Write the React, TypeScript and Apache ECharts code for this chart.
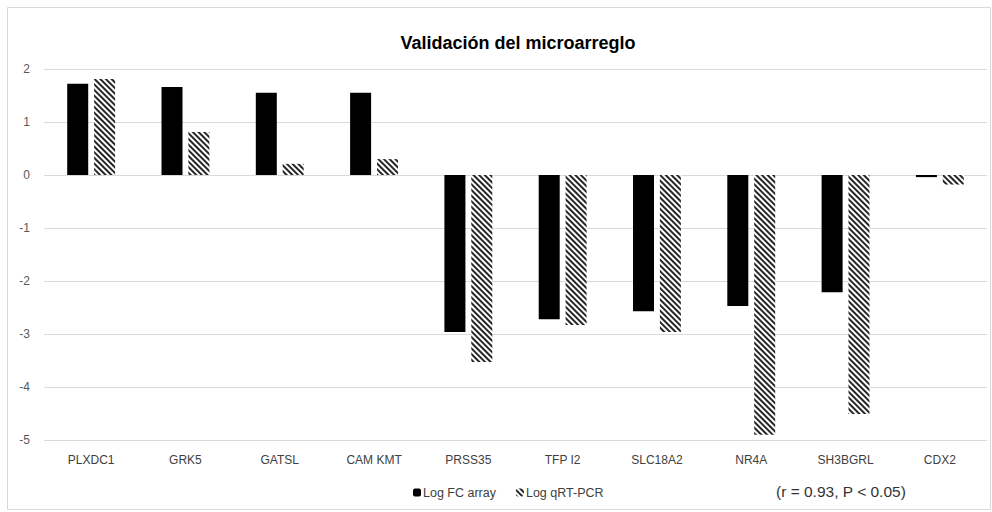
import React, { useEffect, useRef } from "react";
import * as echarts from "echarts";

const categories = ["PLXDC1", "GRK5", "GATSL", "CAMKMT", "PRSS35", "TFPI2", "SLC18A2", "NR4A", "SH3BGRL", "CDX2"];
const categoryLabels = ["PLXDC1", "GRK5", "GATSL", "CAM KMT", "PRSS35", "TFP I2", "SLC18A2", "NR4A", "SH3BGRL", "CDX2"];
const logFcArray = [1.72, 1.66, 1.55, 1.55, -2.96, -2.72, -2.57, -2.47, -2.21, -0.04];
const logQrtPcr = [1.81, 0.81, 0.21, 0.3, -3.53, -2.83, -2.96, -4.9, -4.51, -0.18];
const seriesNames = ["Log FC array", "Log qRT-PCR"];
const titleText = "Validación del microarreglo";
const noteText = "(r = 0.93, P < 0.05)";

export default function App() {
  const ref = useRef<HTMLDivElement>(null);
  useEffect(() => {
    if (!ref.current) return;
    const chart = echarts.init(ref.current, null, { renderer: "svg" });
    const hatch = {
      symbol: "rect",
      symbolSize: 1,
      dashArrayX: [1, 0],
      dashArrayY: [2, 1.6],
      rotation: Math.PI / 4,
      color: "#262626",
    };
    chart.setOption({
      animation: false,
      backgroundColor: "#ffffff",
      title: {
        text: titleText,
        left: 513,
        textAlign: "center",
        top: 29,
        textStyle: { fontFamily: "Liberation Sans", fontSize: 18, fontWeight: "bold", color: "#000" },
      },
      graphic: [
        {
          type: "rect",
          shape: { x: 7.5, y: 7.5, width: 983, height: 502 },
          style: { fill: "none", stroke: "#d9d9d9", lineWidth: 1 },
          silent: true,
        },
        {
          type: "text",
          left: 776,
          top: 483,
          style: { text: noteText, fontFamily: "Liberation Sans", fontSize: 15.5, fill: "#333" },
        },
      ],
      legend: {
        data: seriesNames,
        left: 408,
        top: 481,
        itemWidth: 8,
        itemHeight: 8,
        itemGap: 20,
        textStyle: { fontFamily: "Liberation Sans", fontSize: 12.5, color: "#404040", padding: [0, 0, 0, -3] },
      },
      grid: { left: 44, right: 5, top: 69, bottom: 72 },
      xAxis: {
        type: "category",
        data: categories,
        axisLine: { show: false, onZero: false },
        axisTick: { show: false },
        axisLabel: {
          margin: 14,
          fontFamily: "Liberation Sans",
          fontSize: 12,
          color: "#404040",
          formatter: (_v: string, i: number) => categoryLabels[i],
        },
      },
      yAxis: {
        type: "value",
        min: -5,
        max: 2,
        interval: 1,
        axisLine: { show: false },
        axisTick: { show: false },
        splitLine: { lineStyle: { color: "#d9d9d9", width: 1 } },
        axisLabel: { margin: 14, fontFamily: "Liberation Sans", fontSize: 12, color: "#595959" },
      },
      series: [
        {
          name: seriesNames[0],
          type: "bar",
          data: logFcArray,
          barWidth: 21,
          barGap: "28%",
          itemStyle: { color: "#000000" },
        },
        {
          name: seriesNames[1],
          type: "bar",
          data: logQrtPcr,
          barWidth: 21,
          itemStyle: { color: "#ffffff", decal: hatch },
        },
      ],
    });
    return () => chart.dispose();
  }, []);
  return <div ref={ref} style={{ position: "absolute", left: 0, top: 0, width: 992, height: 512 }} />;
}
